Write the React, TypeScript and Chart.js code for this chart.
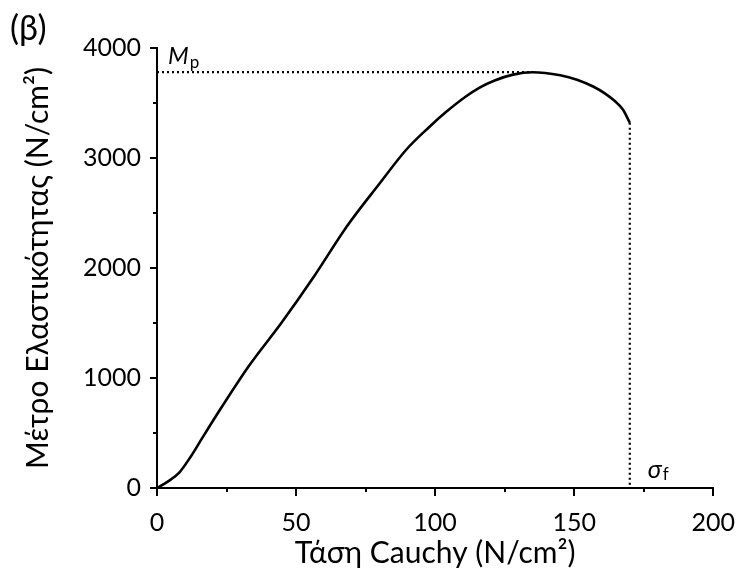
import React, { useEffect, useRef } from "react";
import { Chart, registerables } from "chart.js";

Chart.register(...registerables);

// Cauchy stress (N/cm²) and modulus of elasticity (N/cm²)
const stress = [0, 4, 8, 12, 16.4, 21.1, 32.9, 44.7, 56.5, 68.3, 80.1, 89.6, 97.8, 104, 110.8, 116, 121.4, 128, 135, 145, 151, 156.8, 161, 164.5, 167.5, 170];
const modulus = [0, 60, 140, 280, 460, 650, 1105, 1500, 1925, 2380, 2770, 3075, 3280, 3420, 3555, 3640, 3705, 3758, 3780, 3752, 3712, 3650, 3588, 3520, 3440, 3320];

const peakStress = 135;
const peakModulus = 3780; // M_p
const failStress = 170; // σ_f
const failModulus = 3320;

const xTicks = [0, 50, 100, 150, 200];
const yTicks = [0, 1000, 2000, 3000, 4000];

const FONT = "Lato";

export default function App() {
  const ref = useRef<HTMLCanvasElement | null>(null);

  useEffect(() => {
    const canvas = ref.current;
    if (!canvas) return;

    const annot = {
      id: "annot",
      afterDraw(chart: any) {
        const ctx = chart.ctx;
        const xs = chart.scales.x;
        const ys = chart.scales.y;
        ctx.save();
        ctx.strokeStyle = "#000";
        ctx.lineWidth = 2;
        const axisY = ys.getPixelForValue(0);
        for (let v = xs.min; v <= xs.max; v += 25) {
          const px = Math.round(xs.getPixelForValue(v));
          const len = xTicks.includes(v) ? 8 : 4;
          ctx.beginPath();
          ctx.moveTo(px, axisY);
          ctx.lineTo(px, axisY + len);
          ctx.stroke();
        }
        const axisX = xs.getPixelForValue(0);
        for (let v = ys.min; v <= ys.max; v += 500) {
          const py = Math.round(ys.getPixelForValue(v));
          const len = yTicks.includes(v) ? 7 : 4;
          ctx.beginPath();
          ctx.moveTo(axisX, py);
          ctx.lineTo(axisX - len, py);
          ctx.stroke();
        }
        ctx.fillStyle = "#000";
        ctx.textBaseline = "alphabetic";
        ctx.textAlign = "left";
        // (β)
        ctx.font = `34px ${FONT}`;
        ctx.fillText("(β)", 10, 40);
        // M_p label
        const mx = xs.getPixelForValue(0) + 11;
        const my = ys.getPixelForValue(peakModulus) - 8;
        ctx.font = `italic 24px ${FONT}`;
        ctx.fillText("M", mx, my);
        const mw = ctx.measureText("M").width;
        ctx.font = `17px ${FONT}`;
        ctx.fillText("p", mx + mw + 1, my + 4);
        // σ_f label
        const sx = xs.getPixelForValue(failStress) + 18;
        const sy = ys.getPixelForValue(0) - 10;
        ctx.font = `italic 25px ${FONT}`;
        ctx.fillText("σ", sx, sy);
        const sw = ctx.measureText("σ").width;
        ctx.font = `17px ${FONT}`;
        ctx.fillText("f", sx + sw + 1, sy + 2);
        ctx.restore();
      },
    };

    const chart = new Chart(canvas, {
      type: "scatter",
      data: {
        datasets: [
          {
            data: stress.map((s, i) => ({ x: s, y: modulus[i] })),
            showLine: true,
            borderColor: "#000",
            borderWidth: 2.6,
            pointRadius: 0,
            cubicInterpolationMode: "monotone",
          },
          {
            data: [
              { x: 0, y: peakModulus },
              { x: peakStress, y: peakModulus },
            ],
            showLine: true,
            borderColor: "#000",
            borderWidth: 2.2,
            borderDash: [2, 3],
            pointRadius: 0,
          },
          {
            data: [
              { x: failStress, y: failModulus },
              { x: failStress, y: 0 },
            ],
            showLine: true,
            borderColor: "#000",
            borderWidth: 2.2,
            borderDash: [2, 3],
            pointRadius: 0,
          },
        ],
      },
      options: {
        animation: false,
        responsive: false,
        devicePixelRatio: 1,
        layout: { padding: { top: 48, right: 25, left: 0, bottom: 0 } },
        plugins: { legend: { display: false }, tooltip: { enabled: false } },
        scales: {
          x: {
            type: "linear",
            min: 0,
            max: 200,
            afterFit: (s: any) => {
              s.height = 93;
            },
            grid: { display: false },
            border: { display: true, color: "#000", width: 2 },
            ticks: {
              stepSize: 25,
              autoSkip: false,
              maxRotation: 0,
              padding: 12,
              color: "#000",
              font: { family: FONT, size: 25 },
              callback: (v: any) => (xTicks.includes(Number(v)) ? String(v) : ""),
            },
            title: {
              display: true,
              text: "Τάση Cauchy (N/cm²)",
              color: "#000",
              font: { family: FONT, size: 30 },
              padding: { top: 0, bottom: 10 },
            },
          },
          y: {
            type: "linear",
            min: 0,
            max: 4000,
            afterFit: (s: any) => {
              s.width = 157;
            },
            grid: { display: false },
            border: { display: true, color: "#000", width: 2 },
            ticks: {
              stepSize: 500,
              autoSkip: false,
              padding: 8,
              color: "#000",
              font: { family: FONT, size: 25 },
              callback: (v: any) => (yTicks.includes(Number(v)) ? String(v) : ""),
            },
            title: {
              display: true,
              text: "Μέτρο Ελαστικότητας (N/cm²)",
              color: "#000",
              font: { family: FONT, size: 30 },
              padding: { top: 20, bottom: 0 },
            },
          },
        },
      },
      plugins: [annot],
    } as any);

    return () => chart.destroy();
  }, []);

  return (
    <div style={{ position: "fixed", left: 0, top: 0, width: 747, height: 581, background: "#fff" }}>
      <canvas ref={ref} width={747} height={581} style={{ display: "block" }} />
    </div>
  );
}
